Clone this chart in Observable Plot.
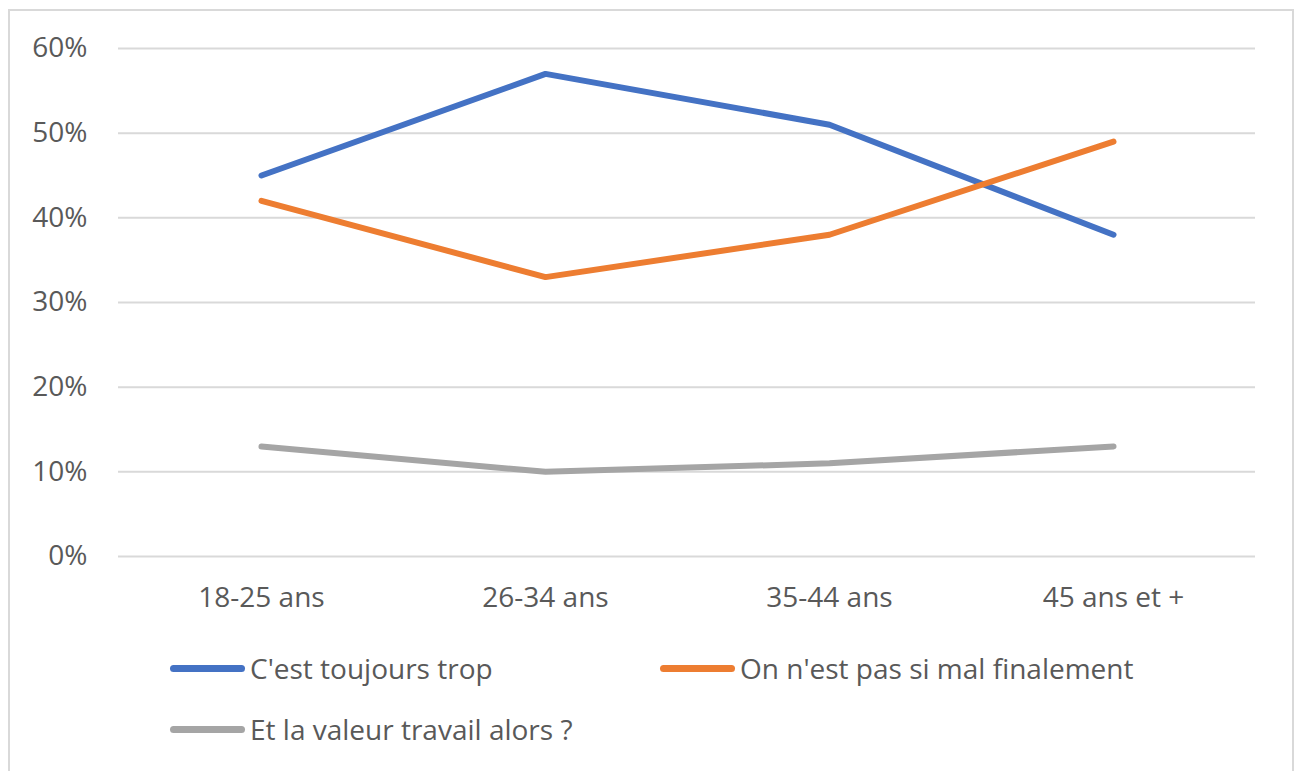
<!DOCTYPE html>
<html>
<head>
<meta charset="utf-8">
<script src="https://cdn.jsdelivr.net/npm/d3@7"></script>
<script src="https://cdn.jsdelivr.net/npm/@observablehq/plot@0.6"></script>
<style>
  html, body { margin: 0; padding: 0; background: #fff; }
  body { width: 1301px; height: 771px; overflow: hidden; position: relative; font-family: "Open Sans", "Noto Sans", sans-serif; }
  #frame { position: absolute; left: 8px; top: 9px; width: 1286px; height: 800px; border: 2px solid #d9d9d9; box-sizing: border-box; }
  #chart { position: absolute; left: 0; top: 0; }
  #legend { position: absolute; left: 0; top: 640px; width: 1301px; height: 120px; font-size: 28px; color: #595959; }
  .item { position: absolute; display: flex; align-items: center; }
  .swatch { width: 75px; height: 7px; border-radius: 4px; margin-right: 5px; }
</style>
</head>
<body>
<div id="frame"></div>
<div id="chart"></div>
<div id="legend"></div>
<script>
const categories = ["18-25 ans", "26-34 ans", "35-44 ans", "45 ans et +"];
const seriesNames = ["C'est toujours trop", "On n'est pas si mal finalement", "Et la valeur travail alors ?"];
const toujoursTrop = [0.45, 0.57, 0.51, 0.38];
const pasSiMal = [0.42, 0.33, 0.38, 0.49];
const valeurTravail = [0.13, 0.10, 0.11, 0.13];
const colors = ["#4472C4", "#ED7D31", "#A5A5A5"];
const yTicks = [0, 0.1, 0.2, 0.3, 0.4, 0.5, 0.6];

const allSeries = [toujoursTrop, pasSiMal, valeurTravail];
const data = [];
allSeries.forEach((vals, si) => {
  vals.forEach((v, i) => data.push({ series: seriesNames[si], category: categories[i], value: v }));
});

const chart = Plot.plot({
  width: 1301,
  height: 620,
  marginLeft: 118,
  marginRight: 46,
  marginTop: 48,
  marginBottom: 64,
  style: { fontFamily: "'Open Sans', 'Noto Sans', sans-serif", fontSize: "28px", color: "#595959", background: "transparent" },
  x: { type: "point", domain: categories, padding: 0.5, label: null },
  y: { domain: [0, 0.6], label: null },
  color: { domain: seriesNames, range: colors },
  marks: [
    Plot.ruleY(yTicks, { stroke: "#d9d9d9", strokeWidth: 2 }),
    Plot.axisY({ ticks: yTicks, tickFormat: d3.format(".0%"), tickSize: 0, tickPadding: 31, fontSize: 28, fill: "#595959", label: null }),
    Plot.axisX({ tickSize: 0, tickPadding: 31, fontSize: 28, fill: "#595959", label: null }),
    Plot.line(data, { x: "category", y: "value", z: "series", stroke: "series", strokeWidth: 6, strokeLinecap: "round", strokeLinejoin: "round", curve: "linear" })
  ]
});
document.getElementById("chart").appendChild(chart);

const legend = document.getElementById("legend");
const positions = [[170, 28], [660, 28], [170, 89]];
seriesNames.forEach((name, i) => {
  const it = document.createElement("div");
  it.className = "item";
  it.style.left = positions[i][0] + "px";
  it.style.top = (positions[i][1] - 20) + "px";
  it.style.height = "40px";
  const sw = document.createElement("div");
  sw.className = "swatch";
  sw.style.background = colors[i];
  const tx = document.createElement("span");
  tx.textContent = name;
  it.appendChild(sw);
  it.appendChild(tx);
  legend.appendChild(it);
});
</script>
</body>
</html>
